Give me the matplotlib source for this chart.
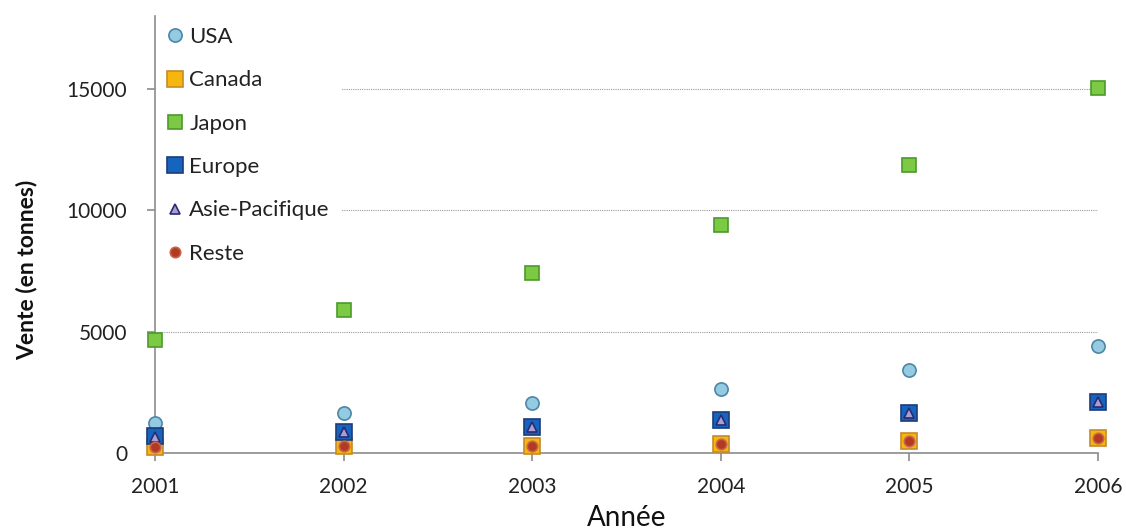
import matplotlib
matplotlib.use("Agg")
import matplotlib.pyplot as plt

years = [2001, 2002, 2003, 2004, 2005, 2006]
usa = [1240, 1650, 2060, 2640, 3420, 4400]
canada = [250, 290, 300, 370, 490, 620]
japon = [4650, 5890, 7420, 9390, 11870, 15040]
europe = [700, 865, 1070, 1360, 1650, 2100]
asie = [660, 865, 1070, 1360, 1650, 2100]
reste = [250, 290, 300, 370, 490, 620]

plt.rcParams['font.family'] = ['Lato', 'DejaVu Sans']

fig = plt.figure(figsize=(11.26, 5.30), dpi=100)
ax = fig.add_axes([0.1377, 0.1453, 0.9751 - 0.1377, 0.9698 - 0.1453])

# (label, values, marker, size, face, edge)
series = [
    ("USA", usa, "o", 9.5, "#92CBE2", "#4F86A6"),
    ("Canada", canada, "s", 12, "#F6B60C", "#C68A2E"),
    ("Japon", japon, "s", 9.5, "#7CC943", "#4C9A2C"),
    ("Europe", europe, "s", 12, "#1565BE", "#1E3B78"),
    ("Asie-Pacifique", asie, "^", 7.5, "#A99FD2", "#2A2A72"),
    ("Reste", reste, "o", 7.5, "#B23A25", "#C8664A"),
]

for label, vals, mk, ms, fc, ec in series:
    ax.plot(years, vals, linestyle="none", marker=mk, markersize=ms,
            markerfacecolor=fc, markeredgecolor=ec, markeredgewidth=1.2,
            label=label, clip_on=False, zorder=3)

ax.set_xlim(2001, 2006)
ax.set_ylim(0, 18000)
ax.set_xticks(years)
ax.set_yticks([0, 5000, 10000, 15000])
ax.yaxis.grid(True, linestyle=(0, (1, 1)), color="#9A9A9A", linewidth=0.8)
ax.set_axisbelow(True)

for side in ["top", "right"]:
    ax.spines[side].set_visible(False)
for side in ["left", "bottom"]:
    ax.spines[side].set_color("#8C8C8C")
    ax.spines[side].set_linewidth(1.2)

ax.tick_params(axis="both", direction="out", length=6, width=1.2,
               color="#8C8C8C", labelsize=15, labelcolor="#222222")
ax.tick_params(axis="y", pad=14)
ax.tick_params(axis="x", pad=11)

ax.set_xlabel("Année", fontsize=20, color="#111111", labelpad=6)
ax.set_ylabel("Vente (en tonnes)", fontsize=16.5, fontweight="bold",
              color="#111111")
ax.yaxis.set_label_coords(-0.125, 0.42)

# legend sits over the gridlines but under the left spine
leg = ax.legend(loc="upper left", bbox_to_anchor=(0.001, 1.0), fontsize=16,
                frameon=True, framealpha=1, facecolor="white",
                edgecolor="none", labelspacing=1.05, handlelength=0.7,
                handletextpad=0.3, borderpad=0.5, borderaxespad=0.0)
leg.set_zorder(2.4)
for t in leg.get_texts():
    t.set_color("#222222")

fig.savefig("out.png", dpi=100)
